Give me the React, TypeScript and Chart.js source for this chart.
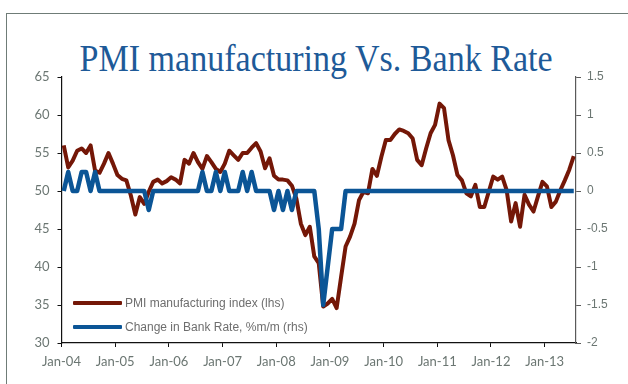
import React, { useEffect, useRef } from 'react';
import { Chart, registerables } from 'chart.js';

Chart.register(...registerables);

// Monthly series, Jan-04 onwards
const xTickLabels = ['Jan-04', 'Jan-05', 'Jan-06', 'Jan-07', 'Jan-08', 'Jan-09', 'Jan-10', 'Jan-11', 'Jan-12', 'Jan-13'];

const pmiIndex = [
  56.0, 53.1, 54.0, 55.3, 55.6, 55.0, 56.0, 52.7, 52.4, 53.6, 55.0, 53.6,
  52.1, 51.6, 51.4, 49.4, 46.9, 49.2, 48.3, 49.9, 51.2, 51.5, 51.0, 51.3,
  51.8, 51.5, 51.0, 54.1, 53.6, 55.0, 53.8, 52.9, 54.6, 53.8, 52.9, 52.5,
  53.6, 55.3, 54.7, 54.1, 55.0, 55.0, 55.7, 56.3, 55.2, 53.0, 54.3, 52.0,
  51.5, 51.5, 51.4, 50.7, 49.0, 45.7, 44.2, 45.3, 41.4, 40.5, 34.8, 35.2,
  35.8, 34.6, 38.7, 42.7, 44.0, 45.7, 48.8, 49.9, 49.7, 52.9, 52.0, 54.5,
  56.7, 56.7, 57.5, 58.1, 57.9, 57.6, 56.9, 54.1, 53.4, 55.6, 57.6, 58.7,
  61.5, 60.9, 56.7, 54.7, 52.1, 51.4, 49.7, 49.3, 50.8, 47.9, 47.9, 49.9,
  51.9, 51.5, 51.9, 50.1, 46.0, 48.4, 45.3, 49.5, 48.2, 47.3, 49.3, 51.2,
  50.6, 47.9, 48.6, 50.1, 51.4, 52.8, 54.6,
];

const bankRateChange = [
  0, 0.25, 0, 0, 0.25, 0.25, 0, 0.25, 0, 0, 0, 0,
  0, 0, 0, 0, 0, 0, 0, -0.25, 0, 0, 0, 0,
  0, 0, 0, 0, 0, 0, 0, 0.25, 0, 0, 0.25, 0,
  0.25, 0, 0, 0, 0.25, 0, 0.25, 0, 0, 0, 0, -0.25,
  0, -0.25, 0, -0.25, 0, 0, 0, 0, 0, -0.5, -1.5, -1.0,
  -0.5, -0.5, -0.5, 0, 0, 0, 0, 0, 0, 0, 0, 0,
  0, 0, 0, 0, 0, 0, 0, 0, 0, 0, 0, 0,
  0, 0, 0, 0, 0, 0, 0, 0, 0, 0, 0, 0,
  0, 0, 0, 0, 0, 0, 0, 0, 0, 0, 0, 0,
  0, 0, 0, 0, 0, 0, 0,
];

const titleText = 'PMI manufacturing Vs. Bank Rate';
const legendLabels = ['PMI manufacturing index (lhs)', 'Change in Bank Rate, %m/m (rhs)'];

const RED = '#741707';
const BLUE = '#0B5596';
const TICK_TEXT = '#6B7672';

// each monthly value sits in the middle of its month
const toPoints = (vals: number[]) => vals.map((v, i) => ({ x: i + 0.5, y: v }));

// plain number labels: 1.5, 1, 0.5, 0, -0.5 ...
const plainNumber = (v: number | string) => {
  const n = Math.round(Number(v) * 100) / 100;
  return String(n === 0 ? 0 : n);
};

export default function App() {
  const canvasRef = useRef<HTMLCanvasElement>(null);

  useEffect(() => {
    const canvas = canvasRef.current;
    if (!canvas) return;
    const chart = new Chart(canvas, {
      type: 'line',
      data: {
        datasets: [
          {
            label: legendLabels[1],
            data: toPoints(bankRateChange),
            yAxisID: 'yRight',
            borderColor: BLUE,
            borderWidth: 4.5,
            pointRadius: 0,
            tension: 0,
            borderJoinStyle: 'round',
            order: 0,
          },
          {
            label: legendLabels[0],
            data: toPoints(pmiIndex),
            yAxisID: 'yLeft',
            borderColor: RED,
            borderWidth: 4,
            pointRadius: 0,
            tension: 0,
            borderJoinStyle: 'round',
            order: 1,
          },
        ],
      },
      options: {
        animation: false,
        responsive: false,
        events: [],
        layout: { padding: { top: 77, left: 0, right: 0, bottom: 0 } },
        plugins: { legend: { display: false }, tooltip: { enabled: false } },
        scales: {
          x: {
            type: 'linear',
            min: 0,
            max: 115,
            afterBuildTicks: (s: any) => {
              s.ticks = xTickLabels.map((_, i) => ({ value: i * 12 }));
            },
            afterFit: (s: any) => {
              s.height = 41;
            },
            ticks: {
              callback: (_v: any, i: number) => xTickLabels[i] ?? '',
              autoSkip: false,
              maxRotation: 0,
              padding: 7,
              color: TICK_TEXT,
              font: { family: 'Lato', size: 13 },
            },
            grid: { drawOnChartArea: false, drawTicks: true, tickLength: 4, color: '#111', lineWidth: 1 },
            border: { display: true, color: '#111', width: 1.2 },
          },
          yLeft: {
            type: 'linear',
            position: 'left',
            min: 30,
            max: 65,
            afterFit: (s: any) => {
              s.width = 61.5;
            },
            ticks: {
              stepSize: 5,
              padding: 8,
              color: TICK_TEXT,
              font: { family: 'Lato', size: 13 },
              callback: (v: any) => plainNumber(v),
            },
            grid: { drawOnChartArea: false, drawTicks: true, tickLength: 4, color: '#111', lineWidth: 1 },
            border: { display: true, color: '#111', width: 1.2 },
          },
          yRight: {
            type: 'linear',
            position: 'right',
            min: -2,
            max: 1.5,
            afterFit: (s: any) => {
              s.width = 52;
            },
            ticks: {
              stepSize: 0.5,
              padding: 6,
              color: TICK_TEXT,
              font: { family: 'Liberation Sans', size: 12 },
              callback: (v: any) => plainNumber(v),
            },
            grid: { drawOnChartArea: false, drawTicks: true, tickLength: 5, color: '#5a5a5a', lineWidth: 1 },
            border: { display: true, color: '#5a5a5a', width: 1.2 },
          },
        },
      },
    });
    return () => chart.destroy();
  }, []);

  const legendRow = (label: string, color: string, centerY: number) => (
    <div
      style={{
        position: 'absolute',
        left: 73,
        top: centerY - 8,
        height: 16,
        display: 'flex',
        alignItems: 'center',
        whiteSpace: 'nowrap',
      }}
    >
      <div style={{ width: 49, height: 4, background: color, borderRadius: 1 }} />
      <span
        style={{
          marginLeft: 3,
          fontFamily: '"Liberation Sans", Arial, sans-serif',
          fontSize: 12,
          color: '#6E6E6E',
          lineHeight: '16px',
        }}
      >
        {label}
      </span>
    </div>
  );

  return (
    <div
      style={{
        position: 'fixed',
        left: 0,
        top: 0,
        width: 628,
        height: 384,
        background: '#fff',
        overflow: 'hidden',
      }}
    >
      <div
        style={{
          position: 'absolute',
          left: 6,
          top: 13,
          width: 700,
          height: 500,
          borderLeft: '1.5px solid #6F7C77',
          borderTop: '1.5px solid #6F7C77',
        }}
      />
      <div
        style={{
          position: 'absolute',
          left: 0,
          top: 40,
          width: 633,
          textAlign: 'center',
          fontFamily: '"Liberation Serif", "Times New Roman", serif',
          fontSize: 37,
          lineHeight: '37px',
          color: '#1E5A98',
          whiteSpace: 'nowrap',
        }}
      >
        <span style={{ display: 'inline-block', transform: 'scaleX(0.92)' }}>{titleText}</span>
      </div>
      <canvas
        ref={canvasRef}
        width={628}
        height={384}
        style={{ position: 'absolute', left: 0, top: 0, width: 628, height: 384 }}
      />
      {legendRow(legendLabels[0], RED, 303)}
      {legendRow(legendLabels[1], BLUE, 327)}
    </div>
  );
}
